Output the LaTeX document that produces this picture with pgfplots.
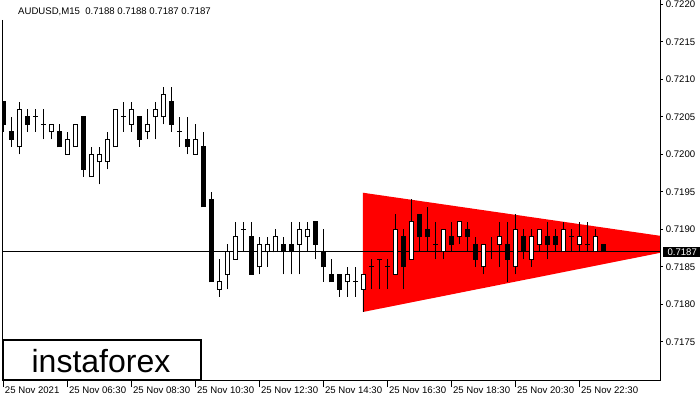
\documentclass[border=0pt]{standalone}
\usepackage{fontspec}
\setmainfont{Liberation Sans}
\usepackage{pgfplots}
\pgfplotsset{compat=1.18}
\usepackage{pgfplotstable}

% k = bar index (15-minute bars, k=8 -> 06:30), o h l c
\pgfplotstableread{
k o h l c
0 0.7207 0.7207 0.7203 0.7204
1 0.7203 0.7205 0.7201 0.7202
3 0.7205 0.7206 0.7203 0.7204
7 0.7203 0.7204 0.7201 0.7201
10 0.7205 0.7205 0.7197 0.7198
17 0.7205 0.7205 0.7201 0.7202
21 0.7207 0.7209 0.7203 0.7204
23 0.7202 0.7205 0.7200 0.7201
25 0.7201 0.7203 0.7193 0.7193
26 0.7194 0.7195 0.7183 0.7183
31 0.7189 0.7191 0.7184 0.7184
35 0.7188 0.7189 0.7184 0.7187
36 0.7188 0.7191 0.7184 0.7187
39 0.7191 0.7191 0.7186 0.7188
40 0.7187 0.7190 0.7183 0.7185
41 0.7184 0.7186 0.7183 0.7183
42 0.7184 0.7184 0.7181 0.7182
50 0.7189 0.7190 0.7182 0.7185
52 0.7192 0.7192 0.7187 0.7189
53 0.7190 0.7193 0.7187 0.7189
56 0.7189 0.7191 0.7187 0.7188
58 0.7190 0.7191 0.7187 0.7189
59 0.7188 0.7189 0.7185 0.7186
63 0.7188 0.7191 0.7183 0.7186
65 0.7189 0.7190 0.7186 0.7187
68 0.7189 0.7191 0.7186 0.7188
69 0.7189 0.7190 0.7187 0.7188
75 0.7188 0.7188 0.7187 0.7187
}\blackc

\pgfplotstableread{
k o h l c
2 0.7201 0.7207 0.7200 0.7206
6 0.7203 0.7204 0.7202 0.7204
8 0.7200 0.7203 0.7200 0.7202
9 0.7201 0.7204 0.7201 0.7204
11 0.7197 0.7201 0.7197 0.7200
12 0.7199 0.7201 0.7196 0.7200
13 0.7199 0.7203 0.7198 0.7202
14 0.7201 0.7206 0.7201 0.7206
16 0.7204 0.7207 0.7203 0.7206
18 0.7203 0.7206 0.7202 0.7204
19 0.7205 0.7207 0.7202 0.7206
20 0.7205 0.7209 0.7204 0.7208
24 0.7200 0.7204 0.7200 0.7202
27 0.7182 0.7186 0.7181 0.7183
28 0.7184 0.7188 0.7182 0.7187
29 0.7186 0.7191 0.7186 0.7189
32 0.7185 0.7189 0.7184 0.7188
33 0.7187 0.7189 0.7185 0.7188
34 0.7187 0.7190 0.7187 0.7189
37 0.7188 0.7191 0.7184 0.7190
38 0.7189 0.7191 0.7187 0.7190
43 0.7183 0.7185 0.7181 0.7184
45 0.7182 0.7184 0.7179 0.7184
49 0.7184 0.7192 0.7184 0.7190
51 0.7186 0.7194 0.7186 0.7191
55 0.7187 0.7190 0.7186 0.7190
57 0.7189 0.7191 0.7188 0.7191
60 0.7185 0.7188 0.7184 0.7188
62 0.7188 0.7191 0.7185 0.7189
64 0.7185 0.7192 0.7184 0.7190
66 0.7186 0.7190 0.7185 0.7189
67 0.7188 0.7190 0.7187 0.7190
70 0.7187 0.7191 0.7187 0.7190
72 0.7188 0.7191 0.7187 0.7189
74 0.7187 0.7190 0.7187 0.7189
}\whitec

\pgfplotstableread{
k o h l c
4 0.7205 0.7206 0.7203 0.7205
5 0.7204 0.7206 0.7202 0.7204
15 0.7205 0.7207 0.7203 0.7205
22 0.7203 0.7205 0.7201 0.7203
30 0.7190 0.7191 0.7187 0.7190
44 0.7183 0.7185 0.7181 0.7183
46 0.7185 0.7186 0.7182 0.7185
47 0.7186 0.7186 0.7182 0.7186
48 0.7185 0.7186 0.7182 0.7185
54 0.7188 0.7191 0.7186 0.7188
61 0.7187 0.7189 0.7186 0.7187
71 0.7189 0.7190 0.7187 0.7189
73 0.7188 0.7191 0.7187 0.7188
}\dojic

\newcommand\tickfont{\fontsize{9.6bp}{11bp}\selectfont}

\begin{document}
\begin{tikzpicture}[x=1bp,y=1bp]
\path[use as bounding box] (0,0) rectangle (700,400);
\begin{axis}[
  at={(2bp,20bp)}, anchor=south west,
  scale only axis, width=658bp, height=380bp,
  xmin=-0.1625, xmax=82.0875,
  ymin=0.716993, ymax=0.72206,
  axis line style={draw=none},
  tick align=outside,
  major tick length=3bp,
  every tick/.style={black, line width=1bp},
  ytick pos=right, yticklabel pos=right,
  ytick={0.7175,0.7180,0.7185,0.7190,0.7195,0.7200,0.7205,0.7210,0.7215,0.7220},
  yticklabels={0.7175,0.7180,0.7185,0.7190,0.7195,0.7200,0.7205,0.7210,0.7215,0.7220},
  yticklabel style={font=\tickfont, anchor=west, inner sep=0pt, xshift=2.6bp},
  extra y ticks={0.7187},
  extra y tick labels={0.7187},
  extra y tick style={major tick length=0pt,
     yticklabel style={font=\tickfont, anchor=west, fill=black, text=white, inner xsep=4.7bp, inner ysep=1.6bp, xshift=0bp}},
  xtick=\empty,
  xtick pos=bottom,
  extra x ticks={0,8,16,24,32,40,48,56,64,72},
  extra x tick labels={25 Nov 2021,25 Nov 06:30,25 Nov 08:30,25 Nov 10:30,25 Nov 12:30,25 Nov 14:30,25 Nov 16:30,25 Nov 18:30,25 Nov 20:30,25 Nov 22:30},
  extra x tick style={major tick length=7bp,
     xticklabel style={font=\tickfont, anchor=north west, inner sep=0pt, xshift=1.5bp, yshift=0bp}},
]
% red symmetrical triangle
\addplot[draw=none, fill=red, forget plot] coordinates {(44.96,0.71949) (88.3,0.71882) (44.96,0.71790)} -- cycle;
% current price line
\addplot[black, line width=1bp, forget plot] coordinates {(-1,0.7187) (84,0.7187)};
% wicks
\addplot[draw=none, mark=none, forget plot, error bars/.cd, y dir=plus, y explicit, error mark=none,
  error bar style={draw=black, line width=1bp}]
  table[x=k, y=l, y error expr=\thisrow{h}-\thisrow{l}] {\blackc};
\addplot[draw=none, mark=none, forget plot, error bars/.cd, y dir=plus, y explicit, error mark=none,
  error bar style={draw=black, line width=1bp}]
  table[x=k, y=l, y error expr=\thisrow{h}-\thisrow{l}] {\whitec};
\addplot[draw=none, mark=none, forget plot, error bars/.cd, y dir=plus, y explicit, error mark=none,
  error bar style={draw=black, line width=1bp}]
  table[x=k, y=l, y error expr=\thisrow{h}-\thisrow{l}] {\dojic};
% black bodies
\addplot[draw=none, mark=none, forget plot, error bars/.cd, y dir=plus, y explicit, error mark=none,
  error bar style={draw=black, line width=5bp, shorten <=-0.5bp, shorten >=-0.5bp}]
  table[x=k, y=c, y error expr=\thisrow{o}-\thisrow{c}] {\blackc};
% white bodies: outline then interior
\addplot[draw=none, mark=none, forget plot, error bars/.cd, y dir=plus, y explicit, error mark=none,
  error bar style={draw=black, line width=5bp, shorten <=-0.5bp, shorten >=-0.5bp}]
  table[x=k, y=o, y error expr=\thisrow{c}-\thisrow{o}] {\whitec};
\addplot[draw=none, mark=none, forget plot, error bars/.cd, y dir=plus, y explicit, error mark=none,
  error bar style={draw=white, line width=3bp, shorten <=0.5bp, shorten >=0.5bp}]
  table[x=k, y=o, y error expr=\thisrow{c}-\thisrow{o}] {\whitec};
% doji
\addplot[only marks, mark=-, mark size=2.5bp, mark options={black, line width=1bp}, forget plot]
  table[x=k, y=o] {\dojic};
\end{axis}
% frame
\draw[black, line width=1bp] (2,380) -- (2,19.5) -- (660.5,19.5) -- (660.5,400);
% header
\node[anchor=west, inner sep=0pt, font=\tickfont] at (18,388.5) {AUDUSD,M15\ \ 0.7188 0.7188 0.7187 0.7187};
% logo
\draw[black, line width=2bp, fill=white] (3,20) rectangle (201,60);
\node[anchor=base, inner sep=0pt, font=\fontsize{32bp}{32bp}\selectfont] at (101,28) {instaforex};
\end{tikzpicture}
\end{document}
